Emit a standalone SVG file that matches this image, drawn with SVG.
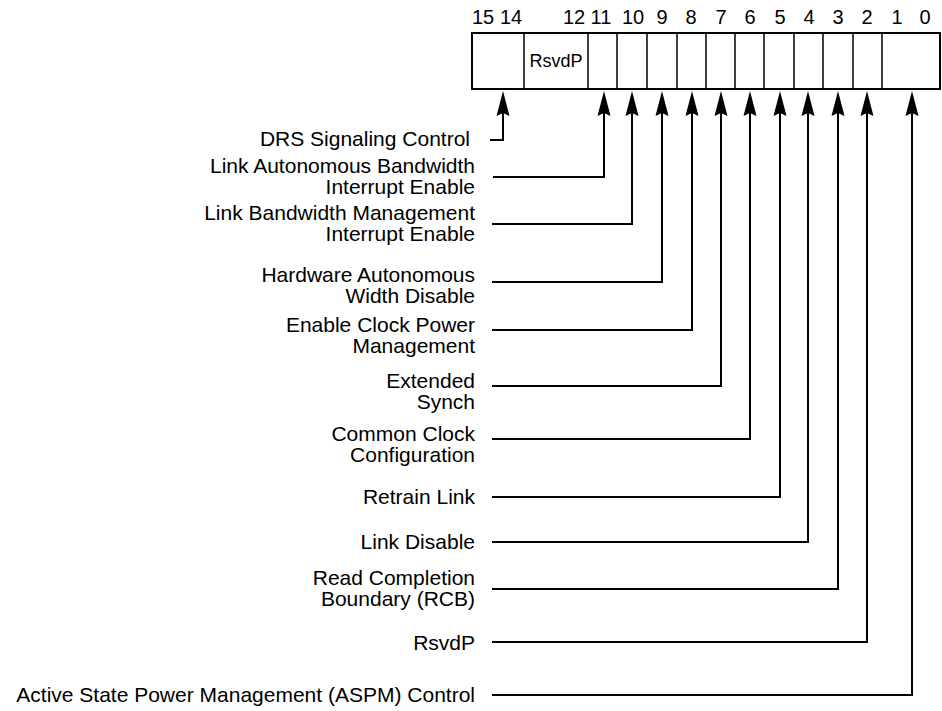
<svg xmlns="http://www.w3.org/2000/svg" width="942" height="711" viewBox="0 0 942 711">
<style>
text{font-family:"Liberation Sans",Arial,sans-serif;fill:#000}
.lbl{font-size:21px;text-anchor:end}
.num{font-size:20px;text-anchor:middle}
.box{fill:#fff;stroke:#000;stroke-width:2}
.div{stroke:#000;stroke-width:1.5}
.con{fill:none;stroke:#000;stroke-width:2}
</style>
<defs>
<marker id="arr" viewBox="-27 -8 29 16" markerWidth="29" markerHeight="16" refX="-8" refY="0" markerUnits="userSpaceOnUse" orient="auto">
<path d="M0,0 L-25,-6.5 L-22,0 L-25,6.5 Z" fill="#000"/>
</marker>
</defs>
<g id="register">
<rect class="box" x="472" y="33" width="468" height="56"/>
<g class="div">
<line x1="524" y1="33" x2="524" y2="89"/>
<line x1="588" y1="33" x2="588" y2="89"/>
<line x1="617" y1="33" x2="617" y2="89"/>
<line x1="647" y1="33" x2="647" y2="89"/>
<line x1="677" y1="33" x2="677" y2="89"/>
<line x1="706" y1="33" x2="706" y2="89"/>
<line x1="735" y1="33" x2="735" y2="89"/>
<line x1="764" y1="33" x2="764" y2="89"/>
<line x1="794" y1="33" x2="794" y2="89"/>
<line x1="823" y1="33" x2="823" y2="89"/>
<line x1="853" y1="33" x2="853" y2="89"/>
<line x1="882" y1="33" x2="882" y2="89"/>
</g>
<text x="556" y="67" style="font-size:18px;text-anchor:middle">RsvdP</text>
<g class="num">
<text class="num" x="483" y="24">15</text>
<text class="num" x="511" y="24">14</text>
<text class="num" x="574" y="24">12</text>
<text class="num" x="601" y="24">11</text>
<text class="num" x="633" y="24">10</text>
<text class="num" x="662" y="24">9</text>
<text class="num" x="691" y="24">8</text>
<text class="num" x="721" y="24">7</text>
<text class="num" x="750" y="24">6</text>
<text class="num" x="780" y="24">5</text>
<text class="num" x="809" y="24">4</text>
<text class="num" x="838" y="24">3</text>
<text class="num" x="867" y="24">2</text>
<text class="num" x="897" y="24">1</text>
<text class="num" x="925" y="24">0</text>
</g>
</g>
<g id="label-drs"><text class="lbl" x="470" y="146">DRS Signaling Control</text></g>
<g id="label-labie"><text class="lbl" x="475" y="173">Link Autonomous Bandwidth</text><text class="lbl" x="475" y="194">Interrupt Enable</text></g>
<g id="label-lbmie"><text class="lbl" x="475" y="220">Link Bandwidth Management</text><text class="lbl" x="475" y="241">Interrupt Enable</text></g>
<g id="label-hawd"><text class="lbl" x="475" y="282">Hardware Autonomous</text><text class="lbl" x="475" y="303">Width Disable</text></g>
<g id="label-ecpm"><text class="lbl" x="475" y="332">Enable Clock Power</text><text class="lbl" x="475" y="353">Management</text></g>
<g id="label-es"><text class="lbl" x="475" y="388">Extended</text><text class="lbl" x="475" y="409">Synch</text></g>
<g id="label-ccc"><text class="lbl" x="475" y="441">Common Clock</text><text class="lbl" x="475" y="462">Configuration</text></g>
<g id="label-rl"><text class="lbl" x="475" y="504">Retrain Link</text></g>
<g id="label-ld"><text class="lbl" x="475" y="549">Link Disable</text></g>
<g id="label-rcb"><text class="lbl" x="475" y="585">Read Completion</text><text class="lbl" x="475" y="606">Boundary (RCB)</text></g>
<g id="label-rsvdp"><text class="lbl" x="475" y="650">RsvdP</text></g>
<g id="label-aspm"><text class="lbl" x="475" y="702">Active State Power Management (ASPM) Control</text></g>
<g id="connectors" class="con">
<polyline class="con" points="490,140 503,140 503,99" marker-end="url(#arr)"/>
<polyline class="con" points="493,177 604,177 604,99" marker-end="url(#arr)"/>
<polyline class="con" points="492,224 632,224 632,99" marker-end="url(#arr)"/>
<polyline class="con" points="492,282 662,282 662,99" marker-end="url(#arr)"/>
<polyline class="con" points="492,330 692,330 692,99" marker-end="url(#arr)"/>
<polyline class="con" points="492,386 721,386 721,99" marker-end="url(#arr)"/>
<polyline class="con" points="492,439 750,439 750,99" marker-end="url(#arr)"/>
<polyline class="con" points="492,497 780,497 780,99" marker-end="url(#arr)"/>
<polyline class="con" points="492,542 808,542 808,99" marker-end="url(#arr)"/>
<polyline class="con" points="492,589 838,589 838,99" marker-end="url(#arr)"/>
<polyline class="con" points="492,642 867,642 867,99" marker-end="url(#arr)"/>
<polyline class="con" points="492,695 912,695 912,99" marker-end="url(#arr)"/>
</g>
</svg>
